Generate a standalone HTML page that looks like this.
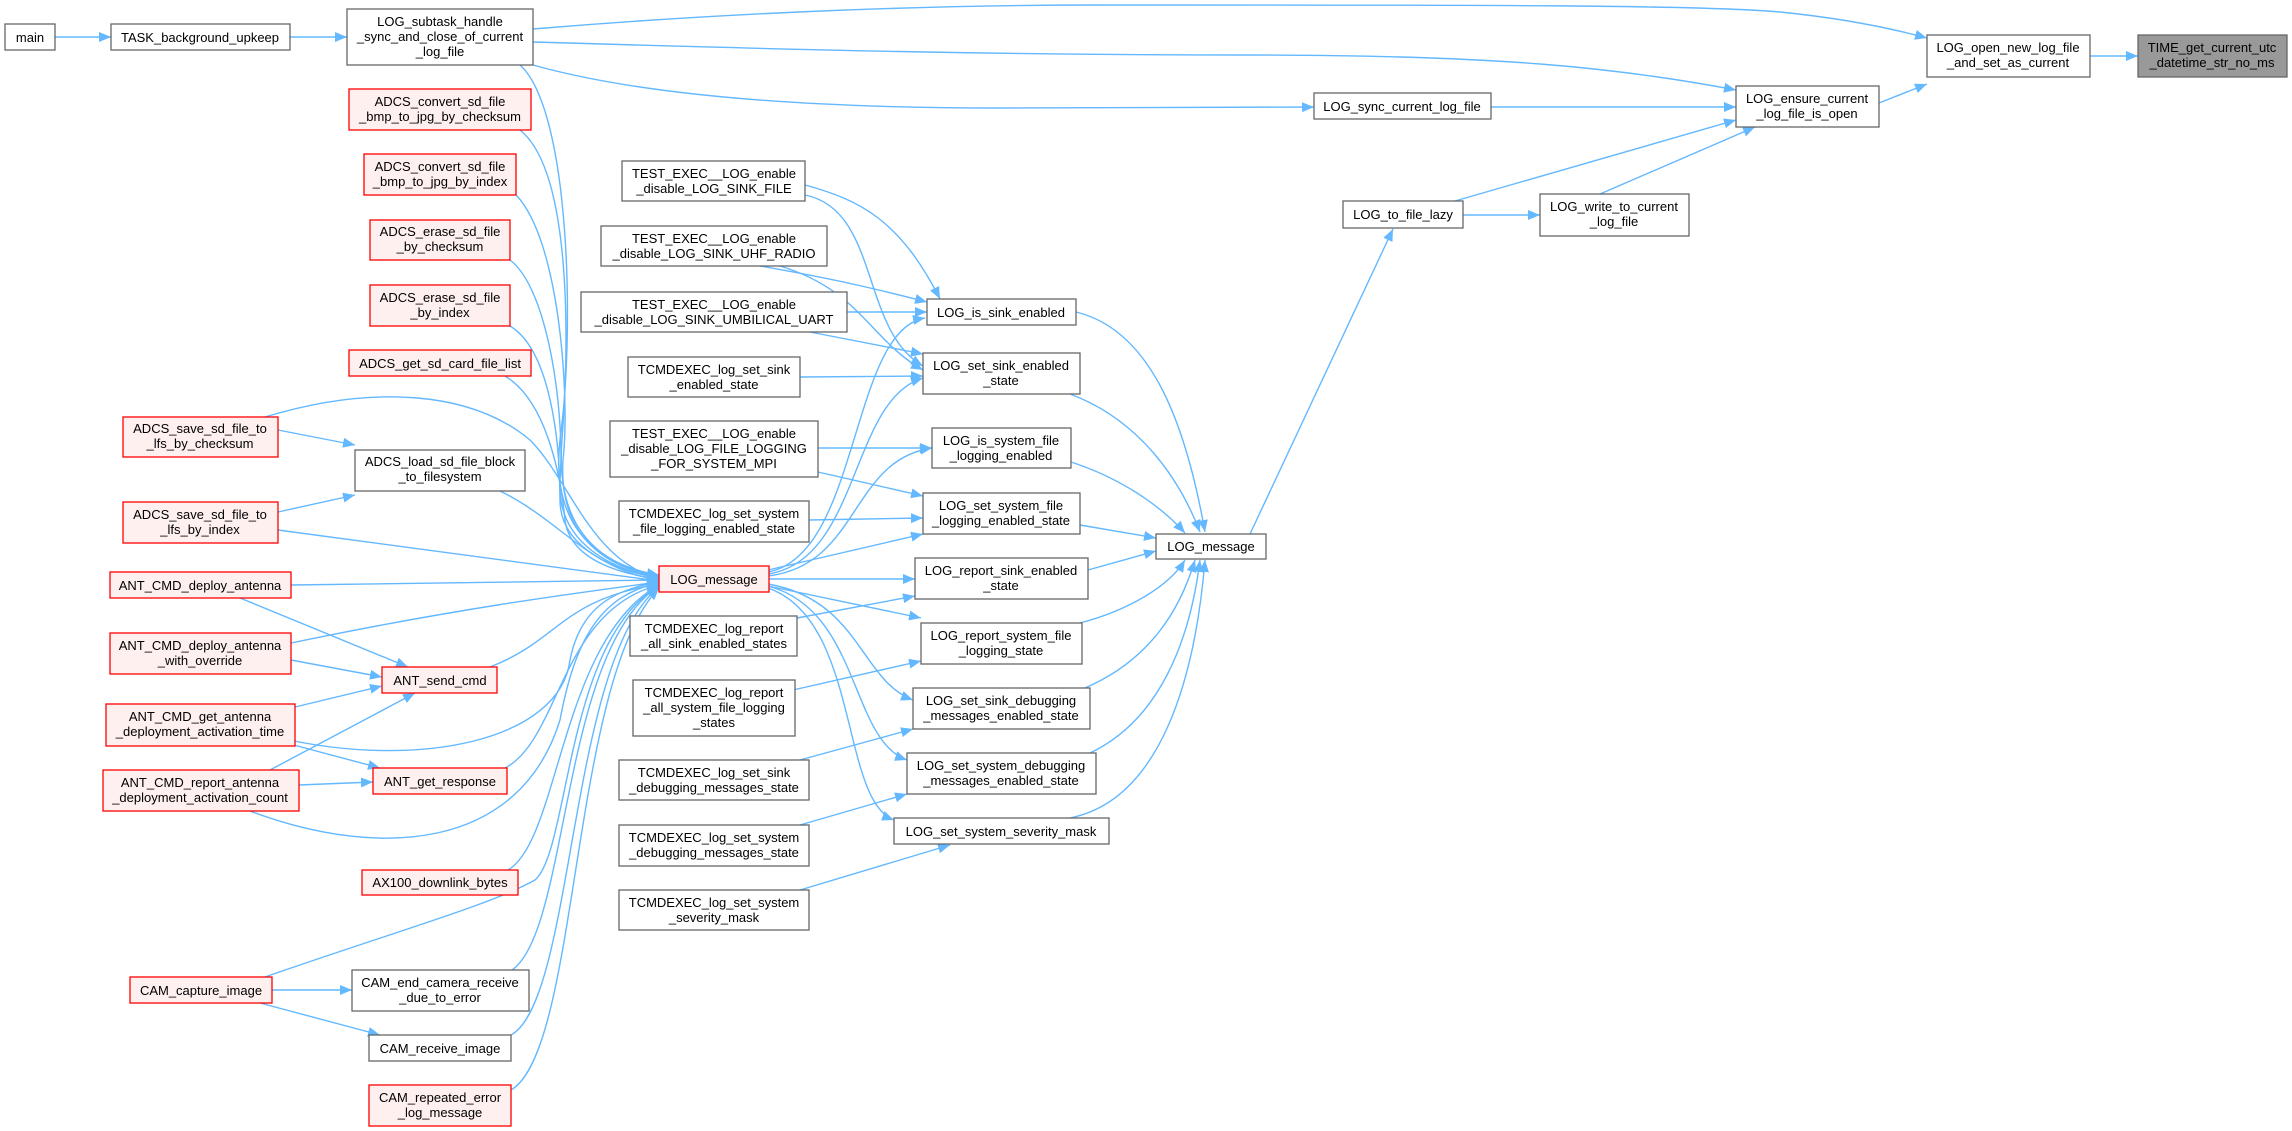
<!DOCTYPE html>
<html><head><meta charset="utf-8"><style>
html,body{margin:0;padding:0;background:#fff;width:2292px;height:1131px;overflow:hidden}
svg text{font-family:"Liberation Sans",Arial,sans-serif;font-size:13px;fill:#000}
</style></head><body>
<svg width="2292" height="1131" viewBox="0 0 2292 1131" xmlns="http://www.w3.org/2000/svg">
<defs>
<marker id="a" viewBox="0 0 12 10" refX="12" refY="5" markerWidth="12" markerHeight="10" markerUnits="userSpaceOnUse" orient="auto">
<path d="M0,0 L12,5 L0,10 z" fill="#63b8ff"/></marker>
</defs>
<g fill="none" stroke="#63b8ff" stroke-width="1.4" marker-end="url(#a)">
<!-- top -->
<path d="M55,37 L111,37"/>
<path d="M290,37 L347,37"/>
<path d="M533,29 C700,15 900,5 1100,5 C1500,5 1700,5 1780,12 C1840,18 1890,28 1927,38"/>
<path d="M533,42 C800,50 1000,55 1250,55 C1500,55 1620,68 1736,90"/>
<path d="M533,65 C640,95 800,108 1000,108 C1150,108 1250,108 1314,107"/>
<path d="M1491,107 L1736,107"/>
<path d="M1879,103 L1927,84"/>
<path d="M2090,56 L2138,56"/>
<path d="M1455,201 L1736,120"/>
<path d="M1600,194 L1755,127"/>
<path d="M1463,215 L1540,215"/>
<path d="M1250,534 L1393,229"/>
<!-- middle -> white LOG_message -->
<path d="M1076,312 C1150,330 1185,420 1205,532"/>
<path d="M1070,394 C1140,420 1180,480 1200,532"/>
<path d="M1071,462 C1120,478 1160,505 1185,533"/>
<path d="M1080,525 L1156,538"/>
<path d="M1088,570 L1156,551"/>
<path d="M1080,623 C1130,610 1170,585 1185,560"/>
<path d="M1085,688 C1150,660 1180,610 1195,560"/>
<path d="M1090,753 C1160,720 1190,640 1200,560"/>
<path d="M1070,818 C1160,800 1195,680 1205,560"/>
<!-- red LOG_message -> middle -->
<path d="M768,572 C860,555 850,330 925,318"/>
<path d="M768,574 C860,560 850,400 923,378"/>
<path d="M768,576 C860,565 850,460 932,448"/>
<path d="M768,570 L923,534"/>
<path d="M768,579 L915,579"/>
<path d="M768,586 L921,618"/>
<path d="M768,584 C860,600 860,680 913,700"/>
<path d="M768,586 C860,610 850,740 907,760"/>
<path d="M768,588 C860,620 840,800 894,820"/>
<!-- left column -> middle -->
<path d="M805,185 C860,200 900,220 940,299"/>
<path d="M805,195 C880,210 860,330 923,366"/>
<path d="M760,266 C840,280 880,290 927,302"/>
<path d="M780,266 C860,290 870,340 923,370"/>
<path d="M847,312 L927,312"/>
<path d="M810,332 L923,354"/>
<path d="M800,377 L923,376"/>
<path d="M818,448 L932,448"/>
<path d="M818,472 L923,496"/>
<path d="M809,520 L923,518"/>
<path d="M797,618 L915,596"/>
<path d="M793,690 L921,661"/>
<path d="M800,760 L913,729"/>
<path d="M800,825 L907,794"/>
<path d="M800,890 L950,845"/>
<!-- into red LOG_message from left -->
<path d="M520,65 C570,110 575,330 560,440 C550,530 600,565 659,575"/>
<path d="M520,130 C570,170 570,330 562,440 C555,530 600,565 659,576"/>
<path d="M516,195 C560,240 570,400 563,460 C558,540 610,568 659,577"/>
<path d="M510,260 C550,290 565,420 560,480 C556,545 615,570 659,578"/>
<path d="M510,326 C550,350 560,440 560,500 C560,550 620,572 659,578"/>
<path d="M505,376 C545,400 560,470 565,520 C570,560 620,574 659,579"/>
<path d="M265,417 C370,385 470,390 530,440 C570,480 590,560 659,579"/>
<path d="M500,491 C560,520 590,570 659,580"/>
<path d="M278,530 L659,581"/>
<path d="M291,585 L659,580"/>
<path d="M291,643 C450,610 560,595 659,582"/>
<path d="M280,738 C420,770 560,740 570,660 C580,610 610,590 659,582"/>
<path d="M250,811 C380,860 520,850 560,720 C575,640 600,595 659,583"/>
<path d="M490,667 C560,640 560,600 659,584"/>
<path d="M505,768 C560,740 560,610 659,585"/>
<path d="M508,870 C560,840 560,640 659,585"/>
<path d="M265,977 C400,930 490,905 535,880 C570,850 565,640 659,586"/>
<path d="M512,970 C570,930 560,650 659,586"/>
<path d="M511,1035 C575,1000 568,660 659,587"/>
<path d="M511,1090 C580,1050 570,680 659,588"/>
<!-- misc -->
<path d="M278,430 L355,445"/>
<path d="M278,512 L355,495"/>
<path d="M240,598 L408,667"/>
<path d="M291,660 L382,677"/>
<path d="M295,707 L382,686"/>
<path d="M270,770 L415,693"/>
<path d="M290,744 L380,768"/>
<path d="M299,785 L373,782"/>
<path d="M272,990 L352,990"/>
<path d="M260,1003 L380,1035"/>
</g>
<g stroke="#666" stroke-width="1.3" fill="#fff">
<rect x="5" y="24" width="50" height="26"/>
<rect x="111" y="24" width="179" height="26"/>
<rect x="347" y="9" width="186" height="56"/>
<rect x="355" y="450" width="170" height="41"/>
<rect x="352" y="970" width="177" height="41"/>
<rect x="369" y="1035" width="142" height="26"/>
<rect x="622" y="161" width="183" height="40"/>
<rect x="601" y="226" width="226" height="40"/>
<rect x="581" y="292" width="266" height="40"/>
<rect x="628" y="357" width="172" height="40"/>
<rect x="610" y="421" width="208" height="56"/>
<rect x="619" y="501" width="190" height="41"/>
<rect x="630" y="616" width="167" height="40"/>
<rect x="633" y="680" width="162" height="56"/>
<rect x="619" y="760" width="190" height="40"/>
<rect x="619" y="825" width="190" height="41"/>
<rect x="619" y="890" width="190" height="40"/>
<rect x="927" y="299" width="149" height="26"/>
<rect x="923" y="353" width="157" height="41"/>
<rect x="932" y="428" width="139" height="40"/>
<rect x="923" y="493" width="157" height="41"/>
<rect x="915" y="558" width="173" height="41"/>
<rect x="921" y="623" width="161" height="41"/>
<rect x="913" y="688" width="177" height="41"/>
<rect x="907" y="753" width="189" height="41"/>
<rect x="894" y="818" width="215" height="26"/>
<rect x="1156" y="534" width="110" height="25"/>
<rect x="1314" y="93" width="177" height="26"/>
<rect x="1343" y="201" width="120" height="27"/>
<rect x="1540" y="194" width="149" height="42"/>
<rect x="1736" y="86" width="143" height="41"/>
<rect x="1927" y="35" width="163" height="42"/>
<rect x="2138" y="35" width="149" height="42" fill="#999"/>
</g>
<g stroke="#ff0000" stroke-width="1.3" fill="#fff0f0">
<rect x="349" y="89" width="182" height="41"/>
<rect x="364" y="154" width="152" height="41"/>
<rect x="370" y="220" width="140" height="40"/>
<rect x="370" y="285" width="140" height="41"/>
<rect x="349" y="350" width="182" height="26"/>
<rect x="123" y="417" width="155" height="40"/>
<rect x="123" y="502" width="155" height="41"/>
<rect x="659" y="566" width="110" height="26"/>
<rect x="110" y="572" width="181" height="26"/>
<rect x="110" y="633" width="181" height="41"/>
<rect x="382" y="667" width="115" height="26"/>
<rect x="106" y="704" width="189" height="42"/>
<rect x="103" y="770" width="196" height="41"/>
<rect x="373" y="768" width="134" height="26"/>
<rect x="362" y="870" width="156" height="25"/>
<rect x="130" y="977" width="142" height="26"/>
<rect x="369" y="1085" width="142" height="41"/>
</g>
<g text-anchor="middle">
<text x="30" y="42">main</text>
<text x="200" y="42">TASK_background_upkeep</text>
<text x="440" y="26">LOG_subtask_handle</text><text x="440" y="41">_sync_and_close_of_current</text><text x="440" y="56">_log_file</text>
<text x="440" y="106">ADCS_convert_sd_file</text><text x="440" y="121">_bmp_to_jpg_by_checksum</text>
<text x="440" y="171">ADCS_convert_sd_file</text><text x="440" y="186">_bmp_to_jpg_by_index</text>
<text x="440" y="236">ADCS_erase_sd_file</text><text x="440" y="251">_by_checksum</text>
<text x="440" y="302">ADCS_erase_sd_file</text><text x="440" y="317">_by_index</text>
<text x="440" y="368">ADCS_get_sd_card_file_list</text>
<text x="200" y="433">ADCS_save_sd_file_to</text><text x="200" y="448">_lfs_by_checksum</text>
<text x="200" y="519">ADCS_save_sd_file_to</text><text x="200" y="534">_lfs_by_index</text>
<text x="440" y="466">ADCS_load_sd_file_block</text><text x="440" y="481">_to_filesystem</text>
<text x="200" y="590">ANT_CMD_deploy_antenna</text>
<text x="200" y="650">ANT_CMD_deploy_antenna</text><text x="200" y="665">_with_override</text>
<text x="440" y="685">ANT_send_cmd</text>
<text x="200" y="721">ANT_CMD_get_antenna</text><text x="200" y="736">_deployment_activation_time</text>
<text x="200" y="787">ANT_CMD_report_antenna</text><text x="200" y="802">_deployment_activation_count</text>
<text x="440" y="786">ANT_get_response</text>
<text x="440" y="887">AX100_downlink_bytes</text>
<text x="201" y="995">CAM_capture_image</text>
<text x="440" y="987">CAM_end_camera_receive</text><text x="440" y="1002">_due_to_error</text>
<text x="440" y="1053">CAM_receive_image</text>
<text x="440" y="1102">CAM_repeated_error</text><text x="440" y="1117">_log_message</text>
<text x="714" y="178">TEST_EXEC__LOG_enable</text><text x="714" y="193">_disable_LOG_SINK_FILE</text>
<text x="714" y="243">TEST_EXEC__LOG_enable</text><text x="714" y="258">_disable_LOG_SINK_UHF_RADIO</text>
<text x="714" y="309">TEST_EXEC__LOG_enable</text><text x="714" y="324">_disable_LOG_SINK_UMBILICAL_UART</text>
<text x="714" y="374">TCMDEXEC_log_set_sink</text><text x="714" y="389">_enabled_state</text>
<text x="714" y="438">TEST_EXEC__LOG_enable</text><text x="714" y="453">_disable_LOG_FILE_LOGGING</text><text x="714" y="468">_FOR_SYSTEM_MPI</text>
<text x="714" y="518">TCMDEXEC_log_set_system</text><text x="714" y="533">_file_logging_enabled_state</text>
<text x="714" y="584">LOG_message</text>
<text x="714" y="633">TCMDEXEC_log_report</text><text x="714" y="648">_all_sink_enabled_states</text>
<text x="714" y="697">TCMDEXEC_log_report</text><text x="714" y="712">_all_system_file_logging</text><text x="714" y="727">_states</text>
<text x="714" y="777">TCMDEXEC_log_set_sink</text><text x="714" y="792">_debugging_messages_state</text>
<text x="714" y="842">TCMDEXEC_log_set_system</text><text x="714" y="857">_debugging_messages_state</text>
<text x="714" y="907">TCMDEXEC_log_set_system</text><text x="714" y="922">_severity_mask</text>
<text x="1001" y="317">LOG_is_sink_enabled</text>
<text x="1001" y="370">LOG_set_sink_enabled</text><text x="1001" y="385">_state</text>
<text x="1001" y="445">LOG_is_system_file</text><text x="1001" y="460">_logging_enabled</text>
<text x="1001" y="510">LOG_set_system_file</text><text x="1001" y="525">_logging_enabled_state</text>
<text x="1001" y="575">LOG_report_sink_enabled</text><text x="1001" y="590">_state</text>
<text x="1001" y="640">LOG_report_system_file</text><text x="1001" y="655">_logging_state</text>
<text x="1001" y="705">LOG_set_sink_debugging</text><text x="1001" y="720">_messages_enabled_state</text>
<text x="1001" y="770">LOG_set_system_debugging</text><text x="1001" y="785">_messages_enabled_state</text>
<text x="1001" y="836">LOG_set_system_severity_mask</text>
<text x="1211" y="551">LOG_message</text>
<text x="1402" y="111">LOG_sync_current_log_file</text>
<text x="1403" y="219">LOG_to_file_lazy</text>
<text x="1614" y="211">LOG_write_to_current</text><text x="1614" y="226">_log_file</text>
<text x="1807" y="103">LOG_ensure_current</text><text x="1807" y="118">_log_file_is_open</text>
<text x="2008" y="52">LOG_open_new_log_file</text><text x="2008" y="67">_and_set_as_current</text>
<text x="2212" y="52">TIME_get_current_utc</text><text x="2212" y="67">_datetime_str_no_ms</text>
</g>
</svg>
</body></html>
